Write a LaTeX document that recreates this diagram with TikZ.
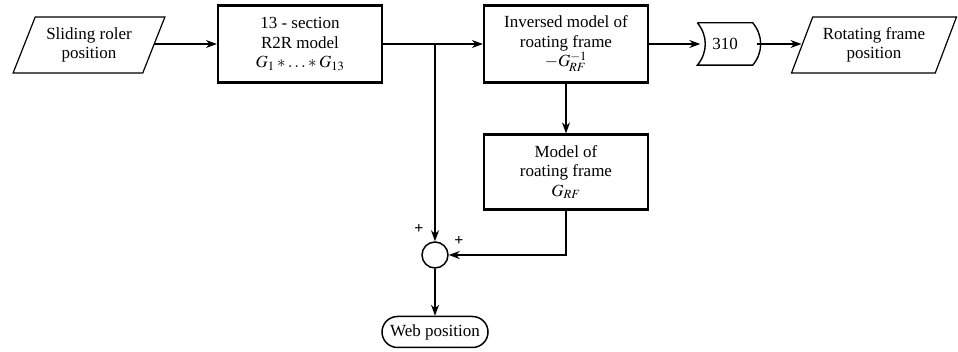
\documentclass[tikz,border=0pt]{standalone}
\usepackage{mathptmx}
\usepackage{fontspec}
\setmainfont{Liberation Serif}
\usetikzlibrary{arrows.meta, shapes.geometric, shapes.misc, positioning}

\begin{document}
\begin{tikzpicture}[x=1pt, y=-1pt,
  font=\fontsize{17}{19.5}\selectfont,
  block/.style={draw, line width=2.2pt, minimum width=164pt, minimum height=77pt,
    align=center, inner sep=2pt},
  io/.style={draw, line width=1.2pt, trapezium, trapezium left angle=64,
    trapezium right angle=116, trapezium stretches=true, minimum height=56pt,
    align=center, inner sep=1pt},
  sum/.style={draw, circle, line width=1.5pt, minimum size=26pt, inner sep=0pt},
  term/.style={draw, rounded rectangle, line width=1.5pt, minimum width=110pt,
    minimum height=31pt, inner sep=2pt},
  sign/.style={font=\fontsize{16}{16}\selectfont\bfseries, inner sep=0pt},
  arr/.style={-{Stealth[length=11pt, width=8pt]}, line width=1.4pt}]
  \useasboundingbox (0,0) rectangle (958,352);

  % upper row
  \node[io, minimum width=152pt] (slide) at (89,45) {Sliding roler\\position};
  \node[block] (rtr) at (300,44) {13 - section\\R2R model\\$G_1 * \ldots * G_{13}$};
  \node[block] (inv) at (566,44) {Inversed model of\\roating frame\\$-G^{-1}_{\!RF}$};
  \node[minimum width=55pt, minimum height=42pt, inner sep=0pt] (store) at (725,44) {310};
  \draw[line width=1.4pt] (store.north west) -- (store.north east)
    to[bend left=40] (store.south east) -- (store.south west)
    to[bend right=40] (store.north west);
  \node[io, minimum width=165pt] (rot) at (874,45) {Rotating frame\\position};

  % lower part
  \node[block, minimum height=75pt] (mdl) at (566,172) {Model of\\roating frame\\$G_{RF}$};
  \node[sum] (sum) at (435,255) {};
  \node[term] (web) at (435,332) {Web position};
  \node[sign] (plusA) at (419,229) {+};
  \node[sign] (plusB) at (459,241) {+};

  \coordinate (split) at (rtr.east -| sum);

  \draw[arr] (slide.east |- rtr) -- (rtr.west);
  \draw[arr] (rtr.east) -- (inv.west);
  \draw[arr] (split) -- (sum.north);
  \draw[arr] (inv.south) -- (mdl.north);
  \draw[arr] (inv.east) -- ([xshift=3pt]store.west);
  \draw[arr] ([xshift=4pt]store.east) -- (store.east -| rot.west);
  \draw[arr] (mdl.south) |- (sum.east);
  \draw[arr] (sum.south) -- (web.north);
\end{tikzpicture}
\end{document}
